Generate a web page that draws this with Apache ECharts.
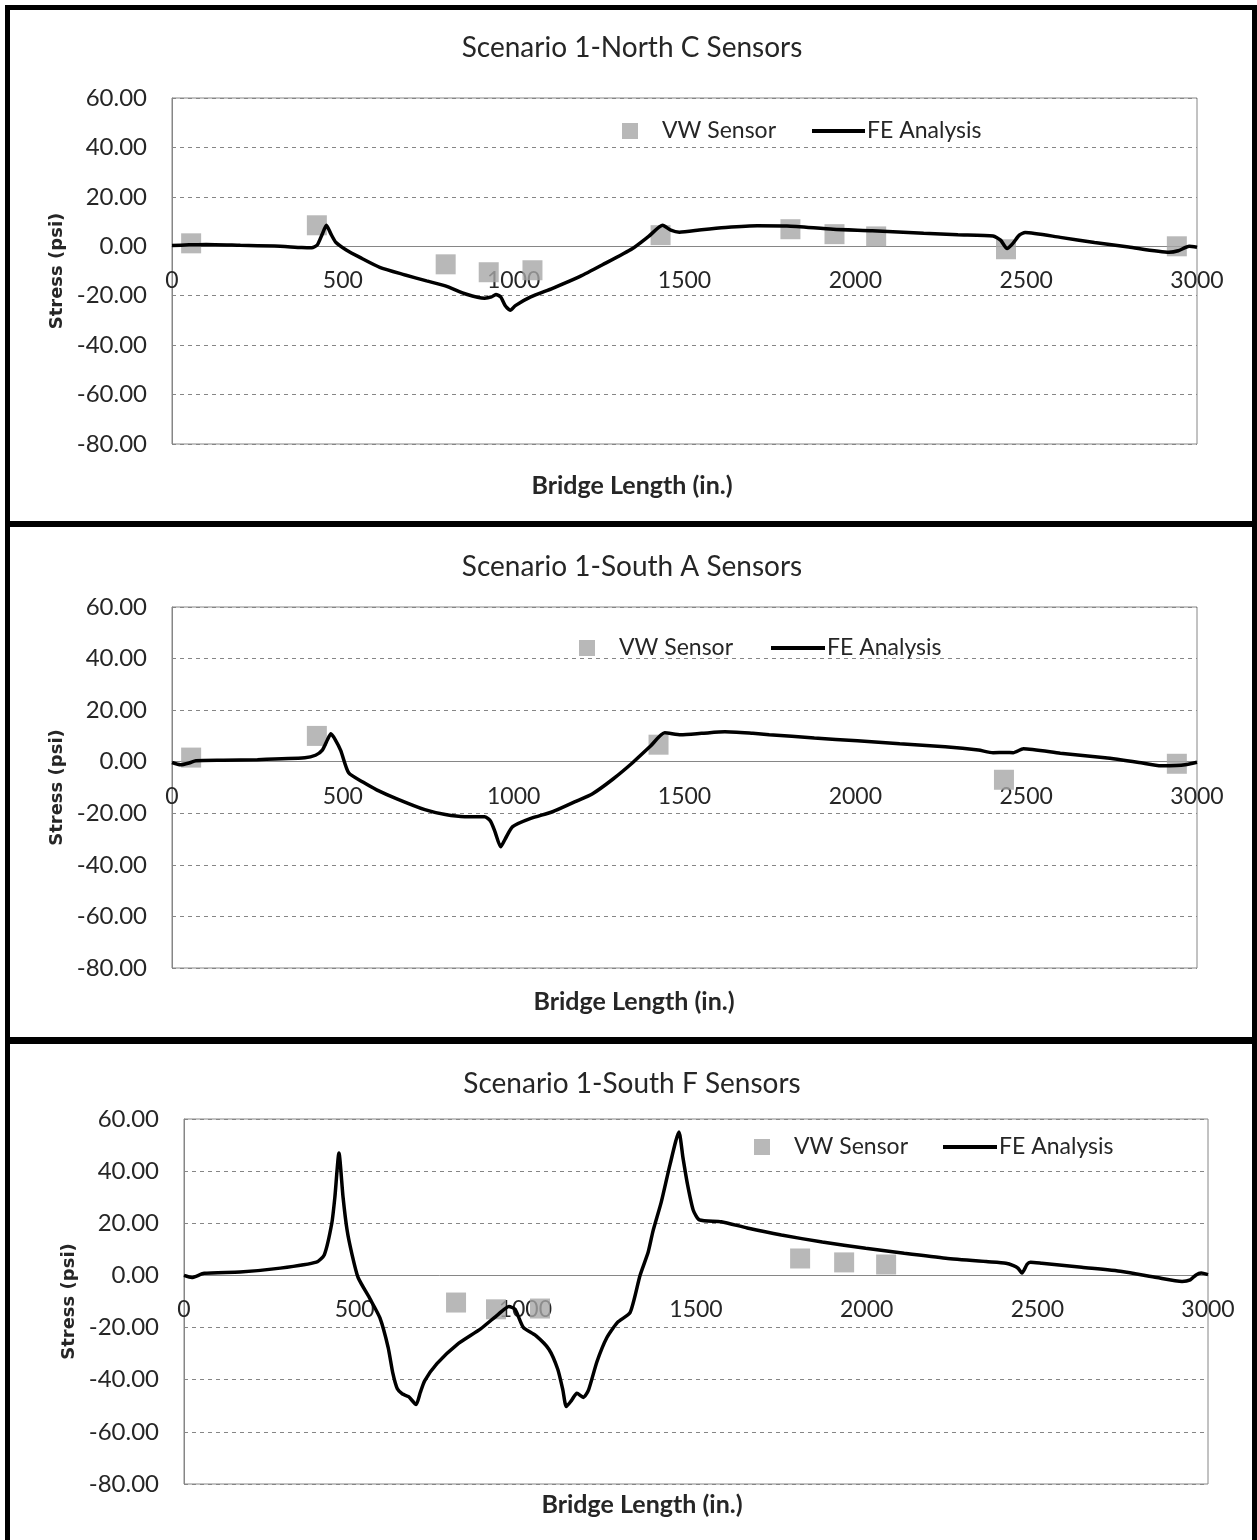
<!DOCTYPE html>
<html>
<head>
<meta charset="utf-8">
<script src="https://cdn.jsdelivr.net/npm/echarts@6/dist/echarts.min.js"></script>
<style>
html, body { margin: 0; padding: 0; background: #fff; }
#main { width: 1257px; height: 1540px; }
</style>
</head>
<body>
<div id="main"></div>
<script>
// stress along the bridge
const xTicks = [0, 500, 1000, 1500, 2000, 2500, 3000];
const yTicks = [-80, -60, -40, -20, 0, 20, 40, 60];

const titles = ['Scenario 1-North C Sensors', 'Scenario 1-South A Sensors', 'Scenario 1-South F Sensors'];

// VW sensor readings [x, stress]
const vwNorthC = [[56, 1.2], [424, 8.5], [801, -7.3], [927, -10.5], [1055, -9.7], [1430, 4.5],
    [1810, 6.9], [1939, 4.9], [2061, 4.0], [2441, -1.2], [2941, 0]];
const vwSouthA = [[56, 1.6], [424, 10.0], [1424, 6.6], [2435, -7.0], [2941, -0.8]];
const vwSouthF = [[797, -10.4], [914, -13.0], [1043, -12.7], [1805, 6.5], [1934, 5.0], [2057, 4.2]];

// FE analysis curves [x, stress]
const feNorthC = [[0, 0.3], [50, 0.6], [100, 0.7], [200, 0.4], [300, 0.1], [380, -0.5], [409, -0.6],
    [425, 0.5], [440, 5], [452, 8.5], [465, 5], [480, 1.5], [510, -1.5], [550, -4.5], [608, -8.5],
    [680, -11.5], [745, -14], [800, -16], [862, -19.4], [915, -21], [935, -20.5], [948, -19.5],
    [962, -20.5], [975, -24], [990, -25.9], [1005, -24], [1050, -20.5], [1114, -17], [1193, -12.3],
    [1260, -7.5], [1348, -0.9], [1395, 4], [1436, 8.5], [1460, 6.5], [1485, 5.7], [1550, 6.7],
    [1620, 7.6], [1713, 8.3], [1800, 8.2], [1935, 6.9], [2050, 6.3], [2200, 5.3], [2300, 4.7],
    [2403, 4.2], [2425, 2.5], [2444, -0.9], [2460, 1], [2480, 4.5], [2497, 5.6], [2600, 3.6],
    [2700, 1.5], [2800, -0.3], [2918, -2.4], [2945, -1.8], [2977, 0], [3000, -0.4]];
const feSouthA = [[0, -0.3], [25, -1.2], [50, -0.5], [70, 0.4], [150, 0.6], [250, 0.8], [389, 1.5],
    [420, 2.5], [440, 4.5], [455, 8.5], [465, 10.8], [478, 8.5], [494, 4.3], [517, -4.3], [560, -8],
    [599, -10.9], [660, -14.5], [740, -18.6], [800, -20.5], [857, -21.3], [915, -21.3], [932, -23],
    [945, -27], [962, -33], [975, -30], [997, -25.2], [1050, -22], [1114, -19.4], [1180, -15.5],
    [1231, -12.4], [1290, -6.8], [1348, -0.4], [1400, 6], [1442, 11.2], [1489, 10.5], [1550, 11],
    [1618, 11.6], [1700, 11], [1748, 10.5], [1880, 9.2], [2006, 8.1], [2130, 7], [2263, 5.8],
    [2360, 4.5], [2403, 3.5], [2440, 3.6], [2462, 3.5], [2492, 5], [2600, 3.3], [2731, 1.5],
    [2830, -0.3], [2895, -1.6], [2940, -1.5], [2965, -1.2], [3000, -0.2]];
const feSouthF = [[0, 0], [23, -0.8], [59, 0.8], [164, 1.3], [282, 2.8], [388, 5.1], [411, 7.9],
    [433, 20], [442, 30], [454, 47], [466, 30], [478, 17.2], [492, 8.2], [510, -0.8], [545, -9],
    [574, -16.3], [598, -27.6], [612, -37.6], [625, -43.5], [640, -45.5], [658, -46.5], [680, -49.5],
    [692, -45], [705, -40.4], [741, -33.8], [800, -26.5], [869, -20.5], [920, -15], [952, -11.9],
    [970, -13], [994, -19.9], [1030, -23], [1069, -28.3], [1095, -36], [1110, -44], [1120, -50.3],
    [1135, -48], [1151, -45.2], [1170, -46.8], [1185, -44], [1210, -33], [1239, -23.8], [1270, -18],
    [1307, -14.2], [1336, 0], [1360, 9], [1374, 17], [1398, 28], [1424, 42.6], [1450, 55],
    [1462, 45], [1475, 35], [1492, 25], [1510, 21.3], [1574, 20.6], [1650, 18.2], [1750, 15.5],
    [1870, 12.8], [1997, 10.4], [2110, 8.5], [2232, 6.6], [2350, 5.3], [2408, 4.7], [2430, 3.8],
    [2443, 2.8], [2455, 0.9], [2470, 4.3], [2480, 5.1], [2513, 4.7], [2630, 3.1], [2748, 1.5],
    [2850, -0.8], [2924, -2.3], [2948, -1.7], [2965, 0.2], [2980, 0.9], [3000, 0.3]];

const panels = [
    { grid: { left: 172, top: 98, width: 1025, height: 346 }, titleY: 48, xNameX: 632, xNameY: 486,
      yNameGap: 98, legA: [617, 114], legB: [807, 114, 53], vw: vwNorthC, fe: feNorthC },
    { grid: { left: 172, top: 607, width: 1025, height: 361 }, titleY: 567, xNameX: 634, xNameY: 1002,
      yNameGap: 102, legA: [574, 631], legB: [766, 631, 54], vw: vwSouthA, fe: feSouthA },
    { grid: { left: 184, top: 1119, width: 1024, height: 365 }, titleY: 1084, xNameX: 642, xNameY: 1505,
      yNameGap: 104, legA: [749, 1130], legB: [938, 1130, 54], vw: vwSouthF, fe: feSouthF }
];

const txtColor = '#262626';
const axisGray = '#868686';
const font = 'Lato';

const chart = echarts.init(document.getElementById('main'));

let grids = [], xAxes = [], yAxes = [], series = [], legends = [], graphics = [];

// black frame around the panels
const frame = [[5, 5, 1252, 5], [5, 5, 5, 1535], [1252, 5, 5, 1535], [5, 521, 1252, 6], [5, 1037, 1252, 7]];
frame.forEach(function (r) {
    graphics.push({ type: 'rect', shape: { x: r[0], y: r[1], width: r[2], height: r[3] },
        style: { fill: '#000' }, z: 100 });
});

const yMin = yTicks[0], yMax = yTicks[yTicks.length - 1];

panels.forEach(function (p, i) {
    grids.push(Object.assign({ show: true, borderColor: axisGray, borderWidth: 1, backgroundColor: '#fff' }, p.grid));
    // put the x axis (line + labels) on the zero level
    const zeroUp = p.grid.height * (0 - yMin) / (yMax - yMin);
    xAxes.push({
        type: 'value', gridIndex: i, min: xTicks[0], max: xTicks[xTicks.length - 1],
        interval: xTicks[1] - xTicks[0],
        offset: -zeroUp,
        axisLine: { onZero: false, lineStyle: { color: axisGray, width: 1 } },
        axisTick: { show: false },
        splitLine: { show: false },
        axisLabel: { margin: 23, color: txtColor, fontFamily: font, fontSize: 23,
            showMinLabel: true, showMaxLabel: true,
            formatter: function (v) { return String(v); } }
    });
    yAxes.push({
        type: 'value', gridIndex: i, min: yMin, max: yMax,
        interval: yTicks[1] - yTicks[0],
        name: 'Stress (psi)', nameLocation: 'middle', nameGap: p.yNameGap, nameRotate: 90,
        nameTextStyle: { fontFamily: "'DejaVu Sans', Verdana, sans-serif", fontWeight: 'bold', fontSize: 18, color: txtColor },
        axisLine: { show: true, lineStyle: { color: axisGray, width: 1 } },
        axisTick: { show: false },
        splitLine: { show: true, lineStyle: { color: axisGray, type: [4, 4], width: 1 } },
        axisLabel: { margin: 25, color: txtColor, fontFamily: font, fontSize: 24,
            formatter: function (v) { return v.toFixed(2); } }
    });
    series.push({
        name: 'VW Sensor', type: 'scatter', xAxisIndex: i, yAxisIndex: i,
        symbol: 'rect', symbolSize: 20, itemStyle: { color: '#a6a6a6' }, z: 2,
        data: p.vw
    });
    series.push({
        name: 'FE Analysis', type: 'line', xAxisIndex: i, yAxisIndex: i,
        symbol: 'none', smooth: 0.2, lineStyle: { color: '#000', width: 3.5 }, itemStyle: { color: '#000' }, z: 3,
        data: p.fe
    });
    legends.push({
        data: ['VW Sensor'], left: p.legA[0], top: p.legA[1], itemWidth: 16, itemHeight: 16,
        selectedMode: false,
        textStyle: { fontFamily: font, fontSize: 23, color: txtColor, lineHeight: 24, padding: [0, 0, 0, 19] }
    });
    legends.push({
        data: [{ name: 'FE Analysis', icon: 'rect' }], left: p.legB[0], top: p.legB[1],
        itemWidth: p.legB[2], itemHeight: 4,
        selectedMode: false,
        textStyle: { fontFamily: font, fontSize: 23, color: txtColor, lineHeight: 24, padding: [0, 0, 0, -3] }
    });
    graphics.push({ type: 'text', x: 632, y: p.titleY,
        style: { text: titles[i], font: '28px Lato', fill: txtColor, align: 'center', verticalAlign: 'middle' } });
    graphics.push({ type: 'text', x: p.xNameX, y: p.xNameY,
        style: { text: 'Bridge Length (in.)', font: 'bold 25px Lato', fill: txtColor, align: 'center', verticalAlign: 'middle' } });
});

const option = {
    animation: false,
    backgroundColor: '#fff',
    grid: grids,
    xAxis: xAxes,
    yAxis: yAxes,
    legend: legends,
    series: series,
    graphic: graphics
};
chart.setOption(option);
console.log('chart ready');
</script>
</body>
</html>
